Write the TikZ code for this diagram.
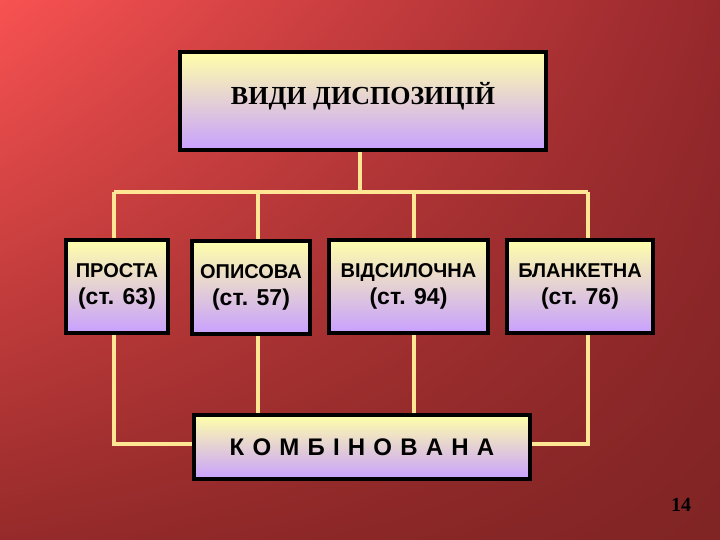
\documentclass[tikz,border=0pt]{standalone}
\usepackage{fontspec}
\setmainfont{Liberation Serif}
\newfontfamily\arialfont{Liberation Sans}
\usetikzlibrary{backgrounds}
\usetikzlibrary{shadings}
\definecolor{bgtl}{RGB}{248, 82, 82}
\definecolor{bgtr}{RGB}{150, 40, 44}
\definecolor{bgbl}{RGB}{150, 42, 42}
\definecolor{bgbr}{RGB}{128, 36, 36}
\definecolor{boxtop}{RGB}{255, 255, 170}
\definecolor{boxbot}{RGB}{200, 160, 255}
\definecolor{lnk}{RGB}{255, 230, 148}
\newcommand{\pg}[1]{{\fontsize{23}{27}\selectfont #1}}
\tikzset{kind/.style = {draw, line width = 4.5pt, top color = boxtop, bottom color = boxbot,
    align = center, inner sep = 0, font = \arialfont\bfseries\fontsize{20}{27}\selectfont},
  link/.style = {lnk, line width = 3.5pt}}

\begin{document}
\begin{tikzpicture}[x = 1pt, y = -1pt]
    \useasboundingbox (0, 0) rectangle (720, 540);

    \node [kind, minimum width = 366, minimum height = 98, font = \fontsize{26}{30}\selectfont\bfseries] (vydy) at (363, 101) {\raisebox{5pt}[\height][\depth]{ВИДИ ДИСПОЗИЦІЙ}};

    \node [kind, minimum width = 102, minimum height = 93] (prosta) at (117, 286.5) {ПРОСТА\\\pg{(ст. 63)}};
    \node [kind, minimum width = 118, minimum height = 93] (opysova) at (251, 287.5) {ОПИСОВА\\\pg{(ст. 57)}};
    \node [kind, minimum width = 159, minimum height = 93] (vidsyl) at (408.5, 286.5) {ВІДСИЛОЧНА\\\pg{(ст. 94)}};
    \node [kind, minimum width = 146, minimum height = 93] (blank) at (580, 286.5) {БЛАНКЕТНА\\\pg{(ст. 76)}};

    \node [kind, minimum width = 336, minimum height = 64, font = \arialfont\fontsize{24}{28}\selectfont\bfseries] (komb) at (362, 447) {\spaceskip=8.2pt К О М Б І Н О В А Н А};

    \node [font = \fontsize{20}{22}\selectfont\bfseries] (page) at (681, 505) {14};

    \coordinate (top) at (360, 192);
    \coordinate (busl) at (114, 192);
    \coordinate (busr) at (588, 192);
    \coordinate (b2) at (258, 192);
    \coordinate (b3) at (414, 192);
    \coordinate (lowl) at (114, 444);
    \coordinate (lowr) at (588, 444);

    \begin{pgfonlayer}{background}
      \shade [upper left = bgtl, upper right = bgtr, lower left = bgbl, lower right = bgbr]
        (0, 0) rectangle (720, 540);
      \draw [link] (top |- vydy.south) -- (top);
      \draw [link] (busl) -- (busr);
      \draw [link] (busl) -- (busl |- prosta.north);
      \draw [link] (b2) -- (b2 |- opysova.north);
      \draw [link] (b3) -- (b3 |- vidsyl.north);
      \draw [link] (busr) -- (busr |- blank.north);
      \draw [link] (busl |- prosta.south) -- (lowl) -- (lowl -| komb.west);
      \draw [link] (b2 |- opysova.south) -- (b2 |- komb.north);
      \draw [link] (b3 |- vidsyl.south) -- (b3 |- komb.north);
      \draw [link] (busr |- blank.south) -- (lowr) -- (lowr -| komb.east);
    \end{pgfonlayer}
  \end{tikzpicture}
\end{document}
